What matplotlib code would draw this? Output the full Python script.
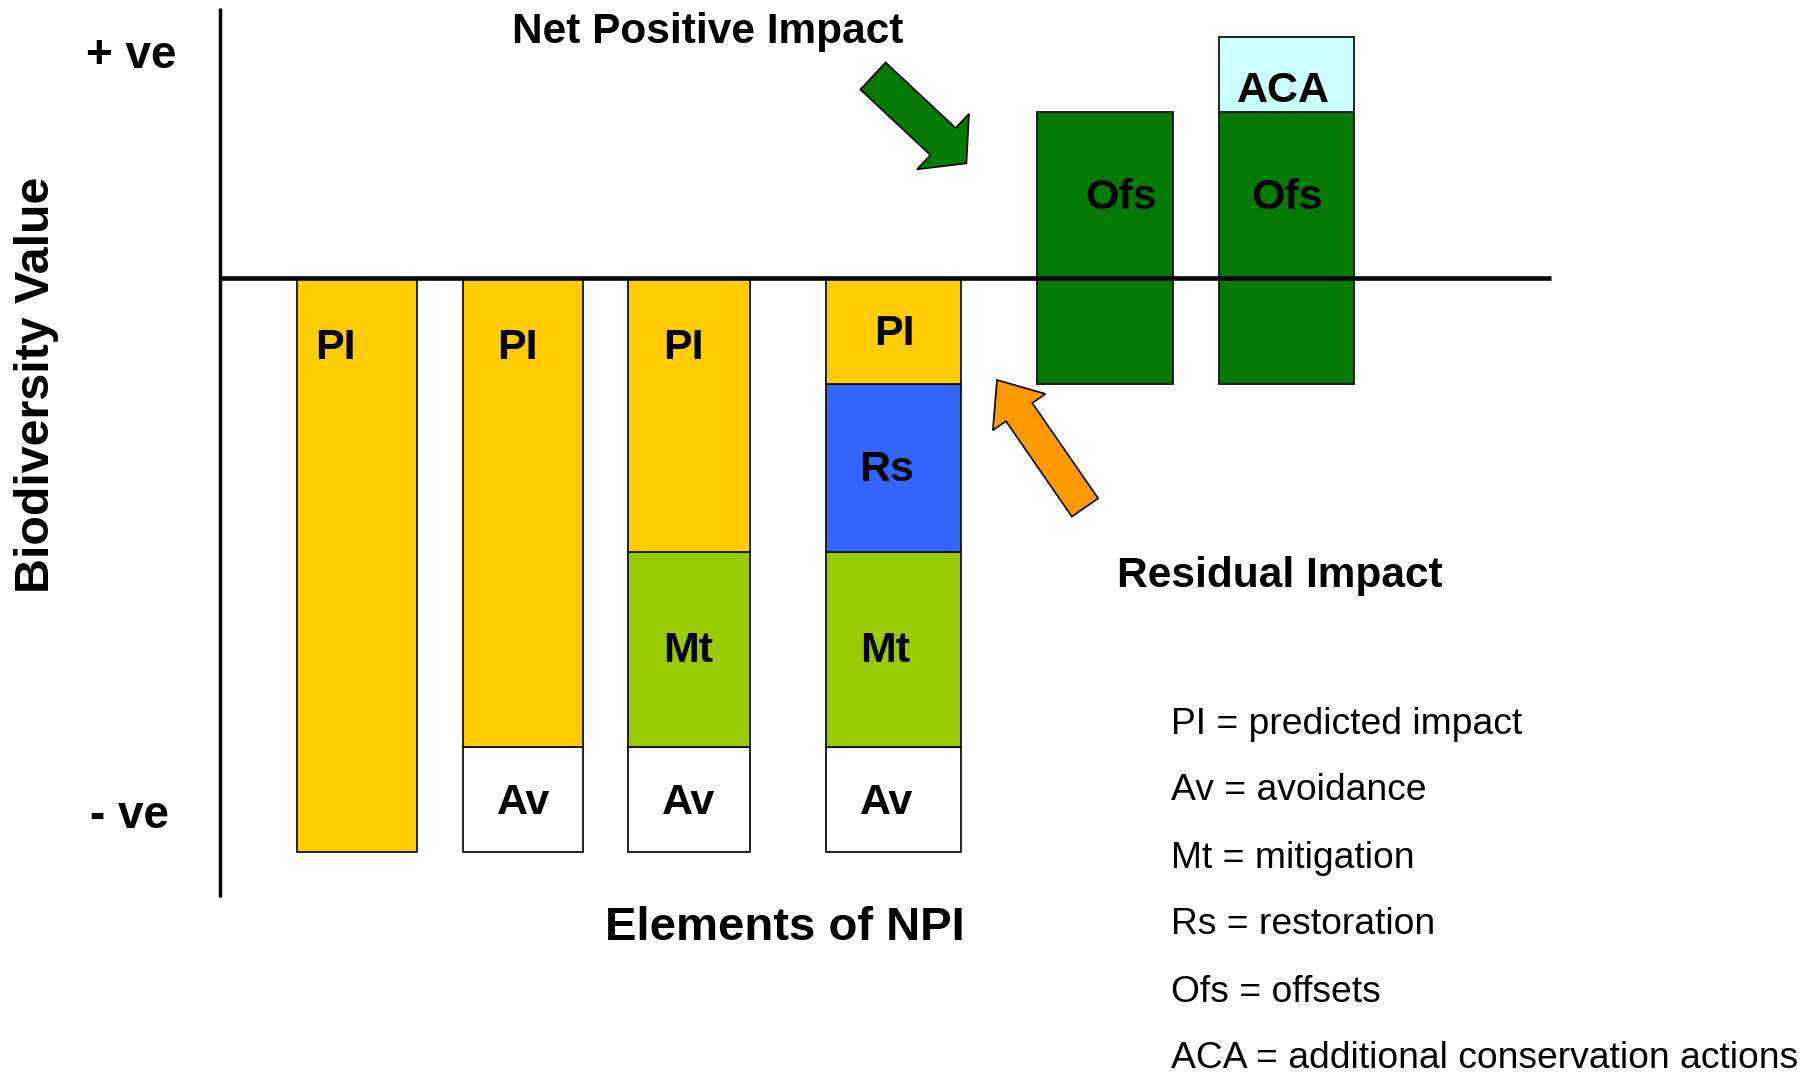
import matplotlib
matplotlib.use("Agg")
import matplotlib.pyplot as plt
from matplotlib.patches import FancyArrow

plt.rcParams['font.family'] = ['Liberation Sans', 'DejaVu Sans']

# stacked pieces of each column, in biodiversity-value units (loss = negative)
stages = ['Predicted impact', 'Avoidance', 'Mitigation', 'Restoration', 'Offsets', 'Offsets + ACA']
base = [-100, -100, -100, -100, -18.5, -18.5]
av = [0, 18.3, 18.3, 18.3, 0, 0]
mt = [0, 0, 34, 34, 0, 0]
rs = [0, 0, 0, 29.2, 0, 0]
pi = [100, 81.7, 47.7, 18.5, 0, 0]
ofs = [0, 0, 0, 0, 47.5, 47.5]
aca = [0, 0, 0, 0, 0, 13]

legend_lines = ['PI = predicted impact', 'Av = avoidance', 'Mt = mitigation',
                'Rs = restoration', 'Ofs = offsets', 'ACA = additional conservation actions']

W, H = 1818, 1074
fig = plt.figure(figsize=(W / 100, H / 100), dpi=100)

# data axes: x in pixels, y in value units (zero line at 278 px, 5.74 px per unit)
ax = fig.add_axes([0, 0, 1, 1])
ax.set_xlim(0, W)
ax.set_ylim(-(H - 278) / 5.74, 278 / 5.74)
ax.axis('off')

# overlay axes in pixel units for annotations
ov = fig.add_axes([0, 0, 1, 1], zorder=3)
ov.set_xlim(0, W)
ov.set_ylim(H, 0)
ov.axis('off')
ov.patch.set_alpha(0)

xc = [357, 523, 689, 893.5, 1105, 1286.5]
bw = [120.5, 120.5, 121.5, 135.7, 136.8, 135.7]

pieces = [(av, 'white'), (mt, '#99CC00'), (rs, '#3366FF'), (pi, '#FFCC00'),
          (ofs, '#037B03'), (aca, '#CCFFFF')]
bottom = list(base)
for vals, col in pieces:
    for i, v in enumerate(vals):
        if v > 0:
            ax.bar(xc[i], v, bottom=bottom[i], width=bw[i], color=col,
                   edgecolor='#111111', linewidth=1.3, zorder=1)
            bottom[i] += v

# zero line and value axis
ax.plot([220, 1551], [0, 0], color='black', lw=3.3, zorder=2, solid_capstyle='butt')
ov.plot([220, 220], [8, 897], color='black', lw=2.5, solid_capstyle='butt')

dy = 4  # text baseline nudge
bold = dict(fontweight='bold', color='black', ha='center', va='center')
seg_labels = [('PI', 335, 344), ('PI', 517, 344), ('PI', 683, 344), ('PI', 894, 330),
              ('Rs', 887, 466), ('Mt', 688, 647), ('Mt', 885, 647),
              ('Av', 524, 799), ('Av', 689, 799), ('Av', 887, 799),
              ('Ofs', 1121, 194), ('Ofs', 1287, 194), ('ACA', 1283, 87)]
for t, x, y in seg_labels:
    ov.text(x, y + dy, t, fontsize=31, **bold)

ov.text(131, 52 + dy, '+ ve', fontsize=33, **bold)
ov.text(130, 812 + dy, '- ve', fontsize=33, **bold)
ov.text(708, 28 + dy, 'Net Positive Impact', fontsize=30.5, **bold)
ov.text(1280, 572 + dy, 'Residual Impact', fontsize=30.5, **bold)
ov.text(785, 924 + dy, 'Elements of NPI', fontsize=34, **bold)
ov.text(37, 385, 'Biodiversity Value', fontsize=34.8, rotation=90, **bold)

leg_y = [720, 787, 854, 921, 988, 1055]
for t, y in zip(legend_lines, leg_y):
    ov.text(1171, y + dy, t, fontsize=26.8, ha='left', va='center', color='black')

# block arrows
ov.add_patch(FancyArrow(873, 76, 93.4, 87.4, width=37, head_width=76, head_length=32,
                        length_includes_head=True, facecolor='#037B03',
                        edgecolor='black', linewidth=1.2))
ov.add_patch(FancyArrow(1085, 507.5, -88, -127.5, width=32, head_width=64, head_length=39,
                        length_includes_head=True, facecolor='#FF9900',
                        edgecolor='black', linewidth=1.2))

fig.savefig('out.png', dpi=100, facecolor='white')
